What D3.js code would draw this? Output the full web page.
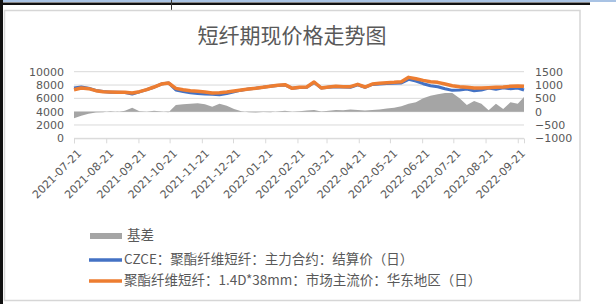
<!DOCTYPE html>
<html><head><meta charset="utf-8">
<script src="https://cdn.jsdelivr.net/npm/d3@7"></script>
<style>body{margin:0;background:#fff}svg{display:block}</style>
</head><body>
<svg id="c" width="616" height="304"></svg>
<script>
const dates = ["2021-07-21","2021-07-28","2021-08-04","2021-08-11","2021-08-18","2021-08-25","2021-09-01","2021-09-08","2021-09-15","2021-09-22","2021-09-29","2021-10-06","2021-10-13","2021-10-20","2021-10-27","2021-11-03","2021-11-10","2021-11-17","2021-11-24","2021-12-01","2021-12-08","2021-12-15","2021-12-22","2021-12-29","2022-01-05","2022-01-12","2022-01-19","2022-01-26","2022-02-02","2022-02-09","2022-02-16","2022-02-23","2022-03-02","2022-03-09","2022-03-16","2022-03-23","2022-03-30","2022-04-06","2022-04-13","2022-04-20","2022-04-27","2022-05-04","2022-05-11","2022-05-18","2022-05-25","2022-06-01","2022-06-08","2022-06-15","2022-06-22","2022-06-29","2022-07-06","2022-07-13","2022-07-20","2022-07-27","2022-08-03","2022-08-10","2022-08-17","2022-08-24","2022-08-31","2022-09-07","2022-09-14","2022-09-21","2022-09-27"];
const spot = [7300,7550,7450,7150,7000,6950,6900,6900,6800,7000,7300,7700,8150,8300,7500,7300,7150,7050,6950,6800,6850,6950,7100,7250,7400,7500,7650,7800,7950,8050,7500,7650,7700,8450,7550,7700,7800,7750,7750,8100,7700,8150,8250,8350,8400,8500,9150,8950,8700,8500,8400,8150,7900,7750,7650,7550,7550,7600,7650,7700,7800,7850,7800];
const futures = [7550,7700,7530,7180,7020,6930,6910,6870,6650,6980,7300,7670,8140,8320,7250,7020,6850,6730,6670,6620,6550,6730,7000,7230,7420,7530,7660,7820,7940,8020,7500,7630,7660,8390,7540,7670,7740,7700,7670,8040,7660,8090,8170,8230,8250,8300,8850,8600,8200,7900,7750,7450,7200,7250,7400,7150,7250,7550,7350,7600,7450,7550,7250];
const basis = [-250,-150,-80,-30,-20,20,-10,30,150,20,0,30,10,-20,250,280,300,320,280,180,300,220,100,20,-20,-30,-10,-20,10,30,0,20,40,60,10,30,60,50,80,60,40,60,80,120,150,200,300,350,500,600,650,700,700,500,250,400,300,50,300,100,350,300,550];
const tickLabels = ["2021-07-21","2021-08-21","2021-09-21","2021-10-21","2021-11-21","2021-12-21","2022-01-21","2022-02-21","2022-03-21","2022-04-21","2022-05-21","2022-06-21","2022-07-21","2022-08-21","2022-09-21"];
const leftTicks = [0,2000,4000,6000,8000,10000];
const rightTicks = [-1000,-500,0,500,1000,1500];
const title = "短纤期现价格走势图";
const legendNames = ["基差","CZCE：聚酯纤维短纤：主力合约：结算价（日）","聚酯纤维短纤：1.4D*38mm：市场主流价：华东地区（日）"];

const parse = d3.timeParse("%Y-%m-%d");
const svg = d3.select("#c");
const font = "'DejaVu Sans', sans-serif";
const cjk = "'Noto Sans CJK SC', sans-serif";

// page decorations
svg.append("rect").attr("x",0).attr("y",0).attr("width",616).attr("height",2).attr("fill","#a9c3e4");
svg.append("rect").attr("x",0).attr("y",2.5).attr("width",590).attr("height",2.5).attr("fill","#111");
svg.append("rect").attr("x",0).attr("y",0).attr("width",3).attr("height",304).attr("fill","#111");
svg.append("line").attr("x1",171.5).attr("x2",171.5).attr("y1",0).attr("y2",10).attr("stroke","#333").attr("stroke-width",1);
svg.append("rect").attr("x",4.5).attr("y",10.5).attr("width",575.5).attr("height",290).attr("fill","#fff").attr("stroke","#d6d6d6").attr("stroke-width",1.5);

const x = d3.scaleTime().domain([parse("2021-07-21"), parse("2022-09-27")]).range([74,524]);
const yL = d3.scaleLinear().domain([0,10000]).range([138.3,71.7]);
const yR = d3.scaleLinear().domain([-1000,1500]).range([138.3,71.7]);

// gridlines
svg.append("g").selectAll("line").data(leftTicks).join("line")
  .attr("x1",74).attr("x2",524).attr("y1",d=>yL(d)).attr("y2",d=>yL(d))
  .attr("stroke","#d9d9d9").attr("stroke-width",1);

// left axis
const gl = svg.append("g").attr("transform","translate(74,0)")
  .call(d3.axisLeft(yL).tickValues(leftTicks).tickSize(0).tickPadding(10).tickFormat(d3.format("d")));
gl.select(".domain").remove();
gl.selectAll("text").attr("font-family",font).attr("font-size",11).attr("fill","#595959");

// right axis
const gr = svg.append("g").attr("transform","translate(524,0)")
  .call(d3.axisRight(yR).tickValues(rightTicks).tickSize(0).tickPadding(11).tickFormat(d3.format("d")));
gr.select(".domain").remove();
gr.selectAll("text").attr("font-family",font).attr("font-size",11).attr("fill","#595959");

// bottom axis
const gb = svg.append("g").attr("transform","translate(0,138.3)")
  .call(d3.axisBottom(x).tickValues(tickLabels.map(parse)).tickSize(5).tickFormat(d3.timeFormat("%Y-%m-%d")));
gb.select(".domain").attr("stroke","#d9d9d9");
gb.selectAll(".tick line").attr("stroke","#d9d9d9");
gb.selectAll("text").attr("font-family",font).attr("font-size",11).attr("fill","#595959")
  .attr("text-anchor","end").attr("dy","0.35em").attr("y",0)
  .attr("transform","translate(5,13) rotate(-45)");

const pts = dates.map((d,i)=>({d:parse(d),s:spot[i],f:futures[i],b:basis[i]}));
svg.append("path").datum(pts)
  .attr("d",d3.area().x(p=>x(p.d)).y0(yR(0)).y1(p=>yR(p.b)))
  .attr("fill","#a5a5a5");
svg.append("path").datum(pts)
  .attr("d",d3.line().x(p=>x(p.d)).y(p=>yL(p.f)))
  .attr("fill","none").attr("stroke","#4472c4").attr("stroke-width",3).attr("stroke-linejoin","round");
svg.append("path").datum(pts)
  .attr("d",d3.line().x(p=>x(p.d)).y(p=>yL(p.s)))
  .attr("fill","none").attr("stroke","#ed7d31").attr("stroke-width",3.5).attr("stroke-linejoin","round");

// title
svg.append("text").attr("x",292).attr("y",37).attr("text-anchor","middle").attr("dominant-baseline","middle")
  .attr("font-family",cjk).attr("font-size",21).attr("fill","#595959").text(title);

// legend
const lg = svg.append("g");
lg.append("rect").attr("x",90).attr("y",233).attr("width",32).attr("height",6).attr("fill","#a5a5a5");
lg.append("line").attr("x1",89).attr("x2",122).attr("y1",260).attr("y2",260).attr("stroke","#4472c4").attr("stroke-width",3.5);
lg.append("line").attr("x1",89).attr("x2",122).attr("y1",281).attr("y2",281).attr("stroke","#ed7d31").attr("stroke-width",3.5);
const ly = [236,260,281], lx=[127,124,124];
legendNames.forEach((n,i)=>{
  lg.append("text").attr("x",lx[i]).attr("y",ly[i]).attr("dominant-baseline","middle")
    .attr("font-family",cjk).attr("font-size",13.5).attr("fill","#595959").text(n);
});
</script>
</body></html>
